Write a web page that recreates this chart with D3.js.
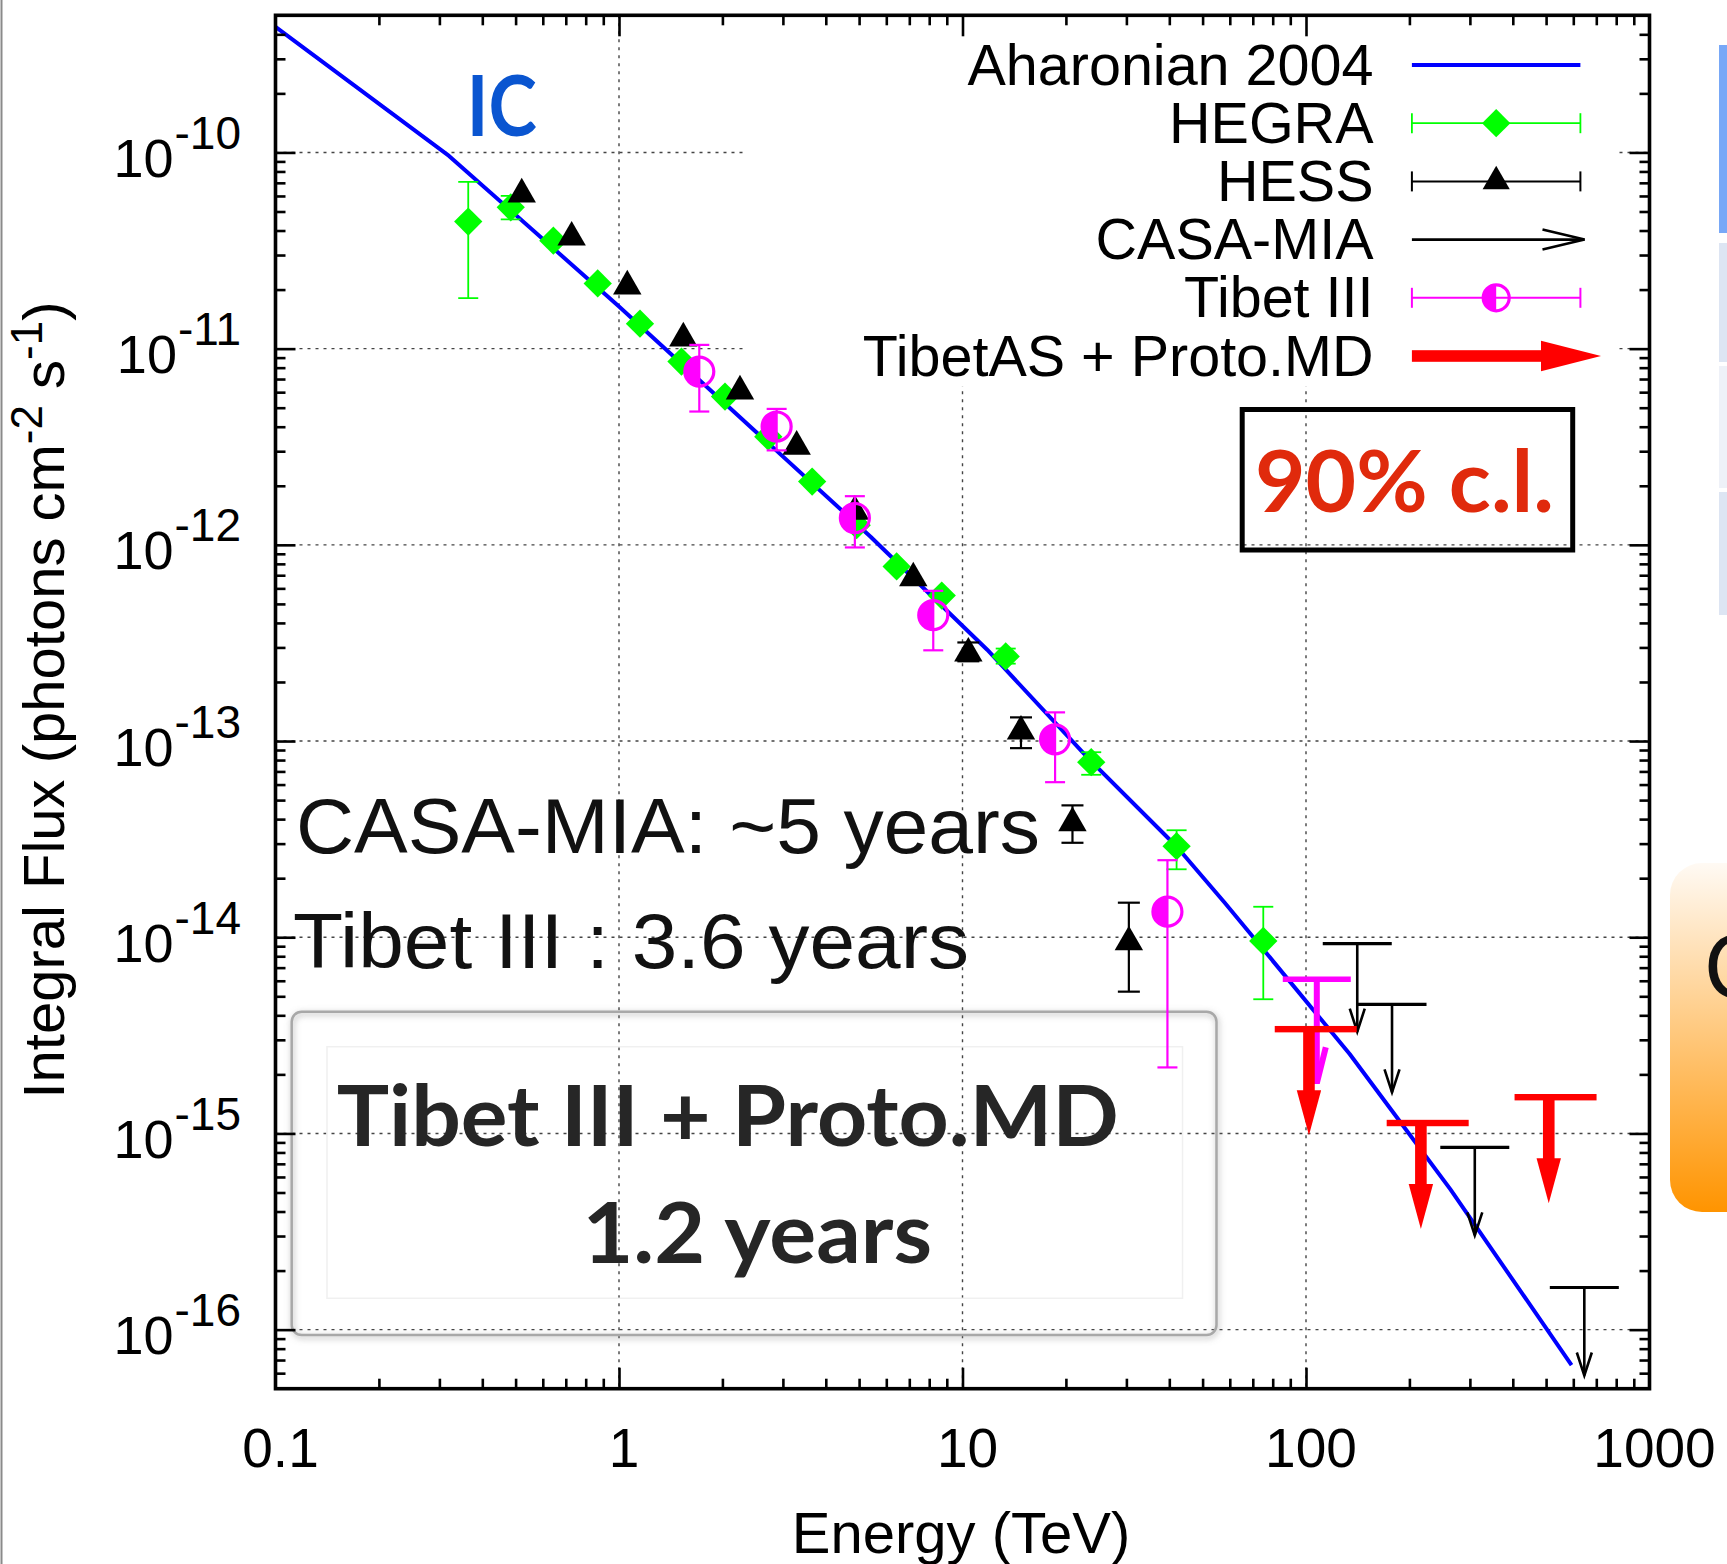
<!DOCTYPE html>
<html><head><meta charset="utf-8">
<script src="https://cdn.jsdelivr.net/npm/d3@7"></script>
<style>body{margin:0;background:#fff;} svg{display:block;}</style>
</head><body>
<script>
// ---------------- data ----------------
const xTickValues = [0.1, 1, 10, 100, 1000];
const xTickLabels = ["0.1", "1", "10", "100", "1000"];
const yTickExponents = [-10, -11, -12, -13, -14, -15, -16];

// Aharonian 2004 curve (integral flux)
const aharE = [0.1, 0.32, 1.0, 5.4, 11.8, 23.5, 42, 58, 134, 177, 263, 593];
const aharF = [4.36e-10, 9.6e-11, 1.64e-11, 1.10e-12, 2.92e-13, 8.0e-14, 2.9e-14, 1.5e-14, 2.54e-15, 1.32e-15, 5.2e-16, 6.6e-17];

// HEGRA
const hegraE  = [0.364, 0.484, 0.644, 0.867, 1.151, 1.52, 2.035, 2.72, 3.65, 4.92, 6.43, 8.70, 13.36, 23.7, 42.0, 75.1];
const hegraF  = [4.44e-11, 5.25e-11, 3.55e-11, 2.15e-11, 1.34e-11, 8.59e-12, 5.70e-12, 3.56e-12, 2.10e-12, 1.26e-12, 7.76e-13, 5.51e-13, 2.70e-13, 7.80e-14, 2.91e-14, 9.57e-15];
const hegraHi = [7.08e-11, 6.0e-11, null, null, null, null, null, null, null, null, null, null, 2.96e-13, 8.77e-14, 3.51e-14, 1.43e-14];
const hegraLo = [1.81e-11, 4.56e-11, null, null, null, null, null, null, null, null, null, null, 2.48e-13, 6.73e-14, 2.22e-14, 4.83e-15];

// HESS
const hessE  = [0.521, 0.728, 1.057, 1.539, 2.25, 3.29, 4.86, 7.19, 10.4, 14.8, 20.9, 30.5];
const hessF  = [6.12e-11, 3.69e-11, 2.08e-11, 1.13e-11, 6.07e-12, 3.17e-12, 1.48e-12, 6.77e-13, 2.80e-13, 1.12e-13, 3.82e-14, 9.45e-15];
const hessHi = [null, null, null, null, null, null, null, null, 3.18e-13, 1.32e-13, 4.7e-14, 1.50e-14];
const hessLo = [null, null, null, null, null, null, null, null, 2.55e-13, 9.2e-14, 3.03e-14, 5.28e-15];

// Tibet III
const tibetE  = [1.713, 2.877, 4.86, 8.22, 18.6, 39.5];
const tibetF  = [7.64e-12, 4.01e-12, 1.37e-12, 4.38e-13, 1.02e-13, 1.35e-14];
const tibetHi = [1.045e-11, 4.93e-12, 1.77e-12, 5.83e-13, 1.40e-13, 2.47e-14];
const tibetLo = [4.78e-12, 3.03e-12, 9.7e-13, 2.9e-13, 6.17e-14, 2.17e-15];

// Upper limits
const tibetULE = [107.5];
const tibetULF = [6.11e-15];
const casaE = [141, 178, 310, 646];
const casaF = [9.27e-15, 4.55e-15, 8.5e-16, 1.64e-16];
const mdE = [102, 216, 509];
const mdF = [3.40e-15, 1.13e-15, 1.53e-15];

const legendLabels = ["Aharonian 2004", "HEGRA", "HESS", "CASA-MIA", "Tibet III", "TibetAS + Proto.MD"];

// ---------------- layout ----------------
const W = 1727, H = 1564;
const M = {l: 275.5, r: 1649.5, t: 15.3, b: 1388.7};
const SANS = "'Liberation Sans', Arial, Helvetica, sans-serif";
const LATO = "Lato, 'Open Sans', sans-serif";
const GREEN = "#00ff00", MAG = "#ff00ff", RED = "#ff0000", BLUE = "#0000ff";

const x = d3.scaleLog().domain([0.1, 1000]).range([M.l, M.r]);
const y = d3.scaleLog().domain([5e-17, 5e-10]).range([M.b, M.t]);

const svg = d3.select("body").append("svg").attr("width", W).attr("height", H);
const defs = svg.append("defs");
svg.append("rect").attr("width", W).attr("height", H).attr("fill", "#fff");

// filters / gradients
const shadow = defs.append("filter").attr("id", "shadow").attr("x", "-5%").attr("y", "-5%").attr("width", "110%").attr("height", "115%");
shadow.append("feDropShadow").attr("dx", 1).attr("dy", 2).attr("stdDeviation", 3).attr("flood-color", "#777").attr("flood-opacity", 0.6);
const og = defs.append("linearGradient").attr("id", "orangeGrad").attr("x1", 0).attr("y1", 0).attr("x2", 0).attr("y2", 1);
og.append("stop").attr("offset", "0%").attr("stop-color", "#fffaf4");
og.append("stop").attr("offset", "100%").attr("stop-color", "#ff9400");
defs.append("clipPath").attr("id", "plotClip").append("rect")
  .attr("x", M.l).attr("y", M.t).attr("width", M.r - M.l).attr("height", M.b - M.t);

// ---------------- slide remnants ----------------
svg.append("line").attr("x1", 1.5).attr("x2", 1.5).attr("y1", 0).attr("y2", H).attr("stroke", "#8a8a8a").attr("stroke-width", 2);
svg.append("rect").attr("x", 1719).attr("y", 45).attr("width", 12).attr("height", 188).attr("fill", "#78a8f7");
svg.append("rect").attr("x", 1719).attr("y", 243).attr("width", 12).attr("height", 119).attr("fill", "#dde5f3");
svg.append("rect").attr("x", 1719).attr("y", 366).attr("width", 12).attr("height", 122).attr("fill", "#eef1f8");
svg.append("rect").attr("x", 1719).attr("y", 492).attr("width", 12).attr("height", 123).attr("fill", "#dde5f3");
svg.append("rect").attr("x", 1670).attr("y", 863).attr("width", 140).attr("height", 349).attr("rx", 32).attr("fill", "url(#orangeGrad)");
svg.append("text").attr("x", 1704).attr("y", 998).attr("font-family", SANS).attr("font-size", 90).attr("fill", "#111").text("C");

// ---------------- grid ----------------
const grid = svg.append("g").attr("stroke", "#444").attr("stroke-width", 1.4).attr("stroke-dasharray", "3,5");
grid.selectAll("line.v").data(xTickValues.slice(1, -1)).join("line")
  .attr("x1", d => x(d)).attr("x2", d => x(d)).attr("y1", M.t).attr("y2", M.b);
grid.selectAll("line.h").data(yTickExponents).join("line")
  .attr("x1", M.l).attr("x2", M.r).attr("y1", d => y(Math.pow(10, d))).attr("y2", d => y(Math.pow(10, d)));
// legend background hides grid
svg.append("rect").attr("x", 745).attr("y", M.t + 2).attr("width", 870).attr("height", 369).attr("fill", "#fff");

// ---------------- annotation text ----------------
svg.append("text").attr("x", 466.8).attr("y", 135.9).attr("font-family", LATO).attr("font-weight", 700)
  .attr("font-size", 85).attr("fill", "#0a55d0").attr("textLength", 70).attr("lengthAdjust", "spacingAndGlyphs").text("IC");

svg.append("rect").attr("x", 1242.2).attr("y", 409.5).attr("width", 330.5).attr("height", 140.5)
  .attr("fill", "none").attr("stroke", "#000").attr("stroke-width", 5);
svg.append("text").attr("x", 1255).attr("y", 511.7).attr("font-family", LATO).attr("font-weight", 700)
  .attr("font-size", 86).attr("fill", "#e02a0c").attr("textLength", 299).attr("lengthAdjust", "spacingAndGlyphs").text("90% c.l.");

svg.append("text").attr("x", 296).attr("y", 853.3).attr("font-family", SANS).attr("font-size", 78)
  .attr("fill", "#111").attr("textLength", 744).attr("lengthAdjust", "spacingAndGlyphs").text("CASA-MIA: ~5 years");
svg.append("text").attr("x", 293).attr("y", 967.6).attr("font-family", SANS).attr("font-size", 78)
  .attr("fill", "#111").attr("textLength", 676).attr("lengthAdjust", "spacingAndGlyphs").text("Tibet III : 3.6 years");

svg.append("rect").attr("x", 291.7).attr("y", 1011.7).attr("width", 924.8).attr("height", 323.3).attr("rx", 10)
  .attr("fill", "none").attr("stroke", "#a8a8a8").attr("stroke-width", 2.5).attr("filter", "url(#shadow)");
svg.append("rect").attr("x", 327).attr("y", 1046.7).attr("width", 855.5).attr("height", 251.6)
  .attr("fill", "none").attr("stroke", "#f0f0f0").attr("stroke-width", 1.5);
svg.append("text").attr("x", 336.8).attr("y", 1145.7).attr("font-family", LATO).attr("font-weight", 700)
  .attr("font-size", 84).attr("fill", "#262626").attr("textLength", 782).attr("lengthAdjust", "spacingAndGlyphs").text("Tibet III + Proto.MD");
svg.append("text").attr("x", 582.4).attr("y", 1263.3).attr("font-family", LATO).attr("font-weight", 700)
  .attr("font-size", 84).attr("fill", "#262626").attr("textLength", 349.6).attr("lengthAdjust", "spacingAndGlyphs").text("1.2 years");

// ---------------- data marks ----------------
const plot = svg.append("g").attr("clip-path", "url(#plotClip)");

plot.append("path").datum(d3.zip(aharE, aharF))
  .attr("d", d3.line().x(d => x(d[0])).y(d => y(d[1])))
  .attr("fill", "none").attr("stroke", BLUE).attr("stroke-width", 4).attr("stroke-linejoin", "round");

function errorBars(g, E, Lo, Hi, color, width, cap) {
  const rows = d3.range(E.length).filter(i => Lo[i] != null).map(i => [E[i], Lo[i], Hi[i]]);
  const eg = g.append("g").attr("stroke", color).attr("stroke-width", width);
  eg.selectAll("line.v").data(rows).join("line")
    .attr("x1", d => x(d[0])).attr("x2", d => x(d[0])).attr("y1", d => y(d[1])).attr("y2", d => y(d[2]));
  eg.selectAll("line.lo").data(rows).join("line")
    .attr("x1", d => x(d[0]) - cap).attr("x2", d => x(d[0]) + cap).attr("y1", d => y(d[1])).attr("y2", d => y(d[1]));
  eg.selectAll("line.hi").data(rows).join("line")
    .attr("x1", d => x(d[0]) - cap).attr("x2", d => x(d[0]) + cap).attr("y1", d => y(d[2])).attr("y2", d => y(d[2]));
}

// HEGRA
errorBars(plot, hegraE, hegraLo, hegraHi, GREEN, 1.8, 10);
const diamond = d3.symbol().type(d3.symbolSquare).size(400)();
plot.selectAll("path.hegra").data(d3.zip(hegraE, hegraF)).join("path")
  .attr("d", diamond).attr("fill", GREEN)
  .attr("transform", d => `translate(${x(d[0])},${y(d[1])}) rotate(45)`);

// HESS
errorBars(plot, hessE, hessLo, hessHi, "#000", 2.2, 11);
const tri = d3.symbol().type(d3.symbolTriangle).size(350)();
plot.selectAll("path.hess").data(d3.zip(hessE, hessF)).join("path")
  .attr("d", tri).attr("fill", "#000")
  .attr("transform", d => `translate(${x(d[0])},${y(d[1])})`);

// Tibet III
errorBars(plot, tibetE, tibetLo, tibetHi, MAG, 2.2, 10);
function halfCircle(g, cx, cy, r) {
  g.append("path").attr("d", `M${cx},${cy - r} A${r},${r} 0 0 0 ${cx},${cy + r} Z`).attr("fill", MAG);
  g.append("circle").attr("cx", cx).attr("cy", cy).attr("r", r).attr("fill", "none").attr("stroke", MAG).attr("stroke-width", 3.2);
}
d3.zip(tibetE, tibetF).forEach(d => halfCircle(plot, x(d[0]), y(d[1]), 14.5));

// Upper limit arrows
function openArrow(g, cx, cy, color, opts) {
  const {barHalf, barW, shaftW, len, headLen, headHalf} = opts;
  g.append("line").attr("x1", cx - barHalf).attr("x2", cx + barHalf).attr("y1", cy).attr("y2", cy)
    .attr("stroke", color).attr("stroke-width", barW);
  g.append("line").attr("x1", cx).attr("x2", cx).attr("y1", cy).attr("y2", cy + len)
    .attr("stroke", color).attr("stroke-width", shaftW);
  g.append("path").attr("d", `M${cx - headHalf},${cy + len - headLen} L${cx},${cy + len} L${cx + headHalf},${cy + len - headLen}`)
    .attr("fill", "none").attr("stroke", color).attr("stroke-width", shaftW);
}
d3.zip(tibetULE, tibetULF).forEach(d => openArrow(plot, x(d[0]), y(d[1]), MAG,
  {barHalf: 34, barW: 5.5, shaftW: 6, len: 104, headLen: 36, headHalf: 9}));
d3.zip(casaE, casaF).forEach(d => openArrow(plot, x(d[0]), y(d[1]), "#000",
  {barHalf: 34.5, barW: 3.2, shaftW: 2.6, len: 88, headLen: 23, headHalf: 7.5}));

function solidArrow(g, cx, cy) {
  g.append("rect").attr("x", cx + 6.8 - 41).attr("y", cy - 3.2).attr("width", 82).attr("height", 6.4).attr("fill", RED);
  g.append("rect").attr("x", cx - 5.8).attr("y", cy).attr("width", 11.6).attr("height", 64).attr("fill", RED);
  g.append("path").attr("d", `M${cx - 12.2},${cy + 61} L${cx + 12.2},${cy + 61} L${cx},${cy + 106} Z`).attr("fill", RED);
}
d3.zip(mdE, mdF).forEach(d => solidArrow(plot, x(d[0]), y(d[1])));

// ---------------- axes ----------------
const minorX = [];
[0.1, 1, 10, 100].forEach(dec => d3.range(2, 10).forEach(k => minorX.push(dec * k)));
const minorY = [];
d3.range(-17, -9).forEach(e => d3.range(2, 10).forEach(k => {
  const v = k * Math.pow(10, e);
  if (v > 5.01e-17 && v < 4.99e-10) minorY.push(v);
}));
const majorX = xTickValues.slice(1, -1);
const majorY = yTickExponents.map(e => Math.pow(10, e));

function addAxis(axis, tx, ty) {
  const g = svg.append("g").attr("transform", `translate(${tx},${ty})`).call(axis);
  g.select(".domain").remove();
  g.selectAll("text").remove();
  g.selectAll("line").attr("stroke", "#000").attr("stroke-width", 2.6);
}
addAxis(d3.axisBottom(x).tickValues(minorX).tickSizeInner(-10).tickSizeOuter(0), 0, M.b);
addAxis(d3.axisBottom(x).tickValues(majorX).tickSizeInner(-21).tickSizeOuter(0), 0, M.b);
addAxis(d3.axisTop(x).tickValues(minorX).tickSizeInner(-10).tickSizeOuter(0), 0, M.t);
addAxis(d3.axisTop(x).tickValues(majorX).tickSizeInner(-21).tickSizeOuter(0), 0, M.t);
addAxis(d3.axisLeft(y).tickValues(minorY).tickSizeInner(-10).tickSizeOuter(0), M.l, 0);
addAxis(d3.axisLeft(y).tickValues(majorY).tickSizeInner(-20).tickSizeOuter(0), M.l, 0);
addAxis(d3.axisRight(y).tickValues(minorY).tickSizeInner(-10).tickSizeOuter(0), M.r, 0);
addAxis(d3.axisRight(y).tickValues(majorY).tickSizeInner(-20).tickSizeOuter(0), M.r, 0);

svg.append("rect").attr("x", M.l).attr("y", M.t).attr("width", M.r - M.l).attr("height", M.b - M.t)
  .attr("fill", "none").attr("stroke", "#000").attr("stroke-width", 3.6);

// tick labels
svg.selectAll("text.xl").data(d3.zip(xTickValues, xTickLabels)).join("text")
  .attr("x", d => x(d[0]) + 5).attr("y", 1466.7).attr("text-anchor", "middle")
  .attr("font-family", SANS).attr("font-size", 55).attr("fill", "#000").text(d => d[1]);

yTickExponents.forEach(e => {
  const yy = y(Math.pow(10, e));
  const t = svg.append("text").attr("x", 241).attr("y", yy + 24.5).attr("text-anchor", "end")
    .attr("font-family", SANS).attr("fill", "#000");
  t.append("tspan").attr("font-size", 54).text("10");
  t.append("tspan").attr("font-size", 46).attr("dy", -28).attr("dx", 1).text(String(e));
});

// axis titles
svg.append("text").attr("x", 961).attr("y", 1553.3).attr("text-anchor", "middle")
  .attr("font-family", SANS).attr("font-size", 58).attr("fill", "#000").text("Energy (TeV)");

const yt = svg.append("text").attr("transform", "translate(64,700) rotate(-90)").attr("text-anchor", "middle")
  .attr("font-family", SANS).attr("font-size", 58).attr("fill", "#000");
yt.append("tspan").text("Integral Flux (photons cm");
yt.append("tspan").attr("font-size", 44).attr("dy", -22).text("-2");
yt.append("tspan").attr("dy", 22).text(" s");
yt.append("tspan").attr("font-size", 44).attr("dy", -22).text("-1");
yt.append("tspan").attr("dy", 22).text(")");

// ---------------- legend ----------------
const legX0 = 1411.9, legX1 = 1580.4, legMid = 1496.2, legTextX = 1373.5;
const rowY = legendLabels.map((_, i) => 65 + i * 58.2);
svg.selectAll("text.leg").data(legendLabels).join("text")
  .attr("x", legTextX).attr("y", (d, i) => rowY[i] + 19.5).attr("text-anchor", "end")
  .attr("font-family", SANS).attr("font-size", 57.5).attr("fill", "#000").text(d => d);

const lg = svg.append("g");
lg.append("line").attr("x1", legX0).attr("x2", legX1).attr("y1", rowY[0]).attr("y2", rowY[0]).attr("stroke", BLUE).attr("stroke-width", 4);
function legErr(yy, color, w) {
  lg.append("line").attr("x1", legX0).attr("x2", legX1).attr("y1", yy).attr("y2", yy).attr("stroke", color).attr("stroke-width", w);
  [legX0, legX1].forEach(xx => lg.append("line").attr("x1", xx).attr("x2", xx).attr("y1", yy - 10).attr("y2", yy + 10).attr("stroke", color).attr("stroke-width", w));
}
legErr(rowY[1], GREEN, 1.8);
lg.append("path").attr("d", diamond).attr("fill", GREEN).attr("transform", `translate(${legMid},${rowY[1]}) rotate(45)`);
legErr(rowY[2], "#000", 2);
lg.append("path").attr("d", d3.symbol().type(d3.symbolTriangle).size(320)()).attr("fill", "#000").attr("transform", `translate(${legMid},${rowY[2]})`);
lg.append("line").attr("x1", legX0).attr("x2", 1584.5).attr("y1", rowY[3]).attr("y2", rowY[3]).attr("stroke", "#000").attr("stroke-width", 2.6);
lg.append("path").attr("d", `M${1584.5 - 42},${rowY[3] - 10} L1584.5,${rowY[3]} L${1584.5 - 42},${rowY[3] + 10}`).attr("fill", "none").attr("stroke", "#000").attr("stroke-width", 2.6);
legErr(rowY[4], MAG, 2);
halfCircle(lg, legMid, rowY[4], 13);
lg.append("rect").attr("x", legX0).attr("y", rowY[5] - 5.8).attr("width", 1542 - legX0).attr("height", 11.6).attr("fill", RED);
lg.append("path").attr("d", `M1541,${rowY[5] - 15.3} L1601,${rowY[5]} L1541,${rowY[5] + 15.3} Z`).attr("fill", RED);
</script>
</body></html>
